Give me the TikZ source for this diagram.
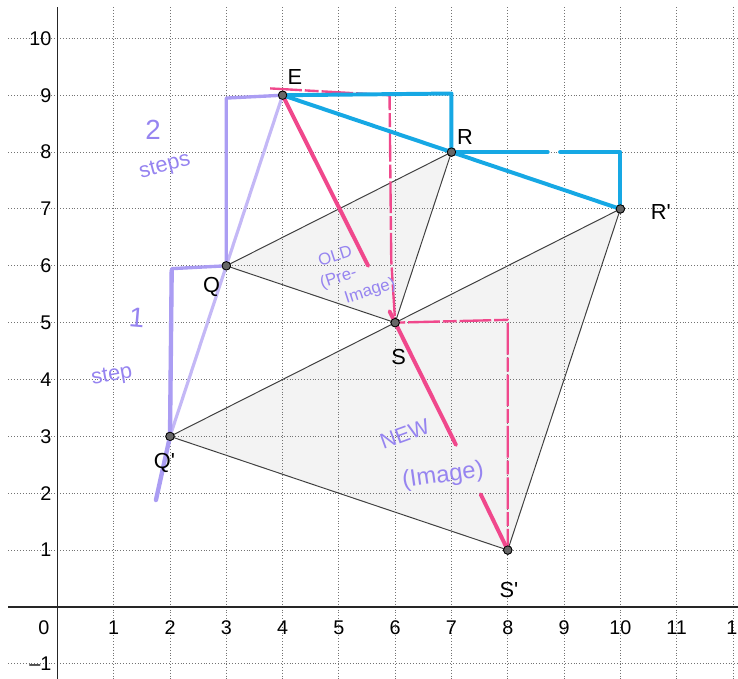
\documentclass[tikz,border=0pt]{standalone}
\usepackage{fontspec}
\setmainfont{Liberation Sans}
\usepackage{xcolor}
\usetikzlibrary{positioning}
\definecolor{penblue}{RGB}{22,168,228}
\definecolor{penpink}{RGB}{240,72,140}
\definecolor{penpurple}{RGB}{150,132,240}
\definecolor{penlilac}{RGB}{196,184,246}
\definecolor{trifill}{RGB}{243,243,243}
\newcommand{\prm}{\textquotesingle}

\begin{document}
\begin{tikzpicture}[x=1cm, y=1.01cm, font=\fontsize{10}{12}\selectfont,
  gridline/.style={densely dotted, black!55, line width=0.45pt},
  axis/.style={black!85, line width=0.8pt},
  tri/.style={draw=black!75, line width=0.5pt},
  pt/.style={circle, draw=black, fill=black!60, inner sep=0pt, minimum size=1.5mm},
  lbl/.style={font=\fontsize{11}{13}\selectfont, inner sep=0pt},
  tick/.style={inner sep=0pt},
  bluepen/.style={penblue, line width=2pt, line cap=round, line join=round},
  pinkpen/.style={penpink, line width=2pt, line cap=round},
  pinkstep/.style={penpink, line width=1.2pt, line join=round,
                   dash pattern=on 16pt off 1.5pt on 7pt off 1.5pt},
  lilacpen/.style={penlilac, line width=1.6pt},
  purplepen/.style={penpurple!80, line width=1.7pt, line join=round},
  hand/.style={text=penpurple, inner sep=0pt}]
\useasboundingbox (-1.02,-1.265) rectangle (12.09,10.675);

% shaded triangles
\fill[trifill] (3,6) -- (7,8) -- (6,5) -- cycle;
\fill[trifill] (2,3) -- (10,7) -- (8,1) -- cycle;

% grid and axes
\foreach \y in {-1,...,10}
  \draw[gridline] (-0.87,\y) -- (12.09,\y);
\foreach \x in {1,...,12}
  \draw[gridline] (\x,10.55) -- (\x,-1.265);
\draw[axis] (0,10.55) -- (0,-1.265);
\draw[axis] (-0.87,0) -- (12.09,0);
\foreach \y in {1,...,10}
  \node[tick, anchor=east] (ty\y) at (-0.1,\y) {\y};
\node[tick, anchor=east] (tym1) at (-0.1,-1) {--1};
\foreach \x in {1,...,11}
  \node[tick] (tx\x) at (\x,-0.37) {\x};
\node[tick] (tx12) at (12.08,-0.37) {12};
\node[tick] (tx0) at (-0.24,-0.37) {0};

% points
\node[pt] (E) at (4,9) {};
\node[pt] (R) at (7,8) {};
\node[pt] (Rp) at (10,7) {};
\node[pt] (Q) at (3,6) {};
\node[pt] (S) at (6,5) {};
\node[pt] (Qp) at (2,3) {};
\node[pt] (Sp) at (8,1) {};

% triangle edges
\draw[tri] (Q.center) -- (R.center) -- (S.center) -- cycle;
\draw[tri] (Qp.center) -- (Rp.center) -- (Sp.center) -- cycle;

% purple steps E -> Q -> Q'
\coordinate (qa) at (3,8.95);
\coordinate (qb) at (2.03,5.95);
\coordinate (qend) at (1.75,1.88);
\draw[lilacpen] (E.center) -- (Qp.center);
\draw[purplepen] (E.center) -- (qa) -- (Q.center) -- (qb) -- (Qp.center);
\draw[purplepen, line width=2.2pt, line cap=round] (qb |- Q.south) -- (Qp.center) -- (qend);

% pink ray E -> S -> S'
\coordinate (p1) at (5.52,6.0);
\coordinate (p2) at (5.9,5.2);
\coordinate (p3) at (7.08,2.85);
\coordinate (p4) at (7.52,1.98);
\draw[pinkpen] (E.center) -- (p1);
\draw[pinkpen] (p2) -- (p3);
\draw[pinkpen] (p4) -- (Sp.center);
\coordinate (sa) at (3.78,9.12);
\coordinate (sb) at (5.9,9.0);
\coordinate (sc) at (5.93,6.1);
\coordinate (sd) at (8,5.05);
\draw[pinkstep] (sa) -- (sb) -- (sc) -- (S.center) -- (sd) -- (Sp.center);

% blue steps E -> R -> R'
\coordinate (ra) at (7,9.03);
\coordinate (rb) at (8.71,8.0);
\coordinate (rc) at (8.93,8.0);
\coordinate (rd) at (10,8.0);
\draw[bluepen] (E.center) -- (R.center) -- (Rp.center);
\draw[bluepen] (E.center) -- (ra) -- (R.center);
\draw[bluepen] (R.center) -- (rb);
\draw[bluepen] (rc) -- (rd) -- (Rp.center);

% redraw points on top
\foreach \p in {E,R,Rp,Q,S,Qp,Sp}
  \node[pt] at (\p) {};

% point labels
\node[lbl] (Elbl) at (4.22,9.32) {E};
\node[lbl] (Rlbl) at (7.24,8.27) {R};
\node[lbl] (Rplbl) at (10.72,6.95) {R\prm};
\node[lbl] (Qlbl) at (2.74,5.63) {Q};
\node[lbl] (Slbl) at (6.06,4.40) {S};
\node[lbl] (Qplbl) at (1.9,2.53) {Q\prm};
\node[lbl] (Splbl) at (8.02,0.30) {S\prm};

% handwritten notes
\node[hand, font=\fontsize{14}{14}\selectfont] (two) at (1.70,8.39) {2};
\node[hand, font=\fontsize{11}{11}\selectfont, rotate=15] (steps) at (1.91,7.74) {steps};
\node[hand, font=\fontsize{14}{14}\selectfont, rotate=-5] (one) at (1.41,5.08) {1};
\node[hand, font=\fontsize{11}{11}\selectfont, rotate=10] (step) at (0.97,4.06) {step};
\node[hand, font=\fontsize{8.5}{11}\selectfont, align=left, rotate=18]
  (old) at (5.28,5.86) {\hspace*{0.3em}OLD\\(Pre-\\\hspace*{1.1em}Image)};
\node[hand, font=\fontsize{11}{11}\selectfont, rotate=20] (new) at (6.17,3.04) {NEW};
\node[hand, font=\fontsize{12}{12}\selectfont, rotate=8] (newimg) at (6.85,2.30) {(Image)};
\end{tikzpicture}
\end{document}
